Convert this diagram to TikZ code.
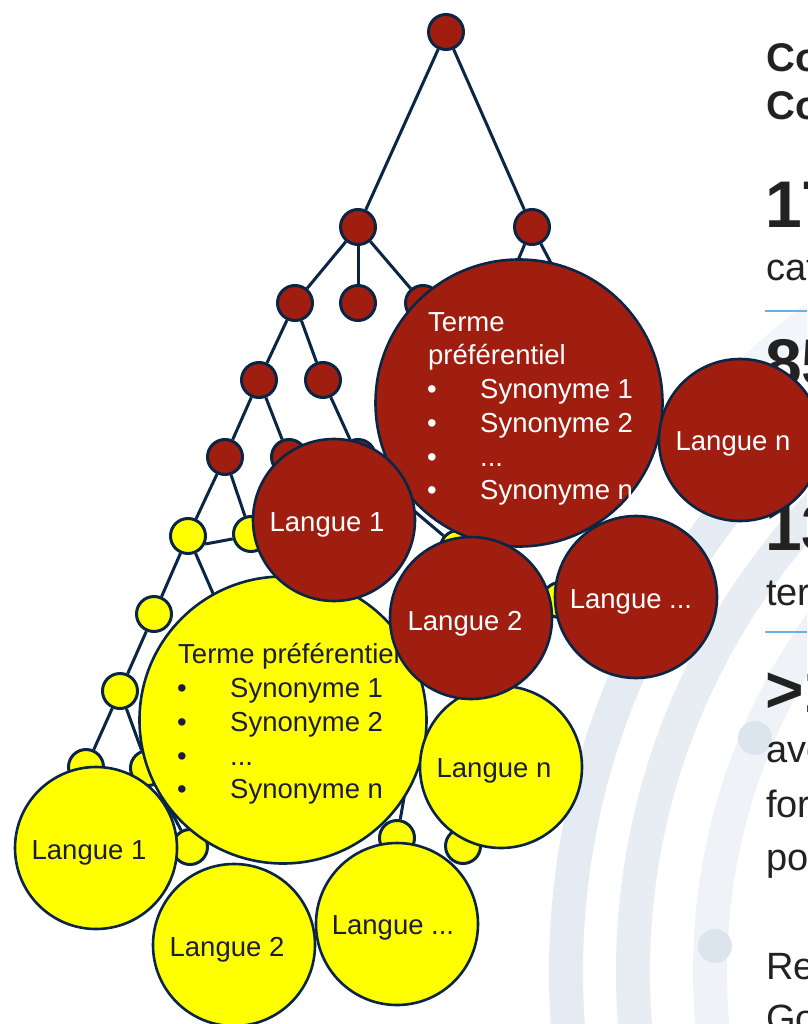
\documentclass[tikz,border=0pt]{standalone}
\usepackage{fontspec}
\setmainfont{Liberation Sans}
\definecolor{navy}{HTML}{0B2545}
\definecolor{tred}{HTML}{A01E10}
\definecolor{tyel}{HTML}{FFFF00}
\definecolor{ytext}{HTML}{1C1C3C}
\definecolor{bandA}{HTML}{E5EBF3}
\definecolor{bandB}{HTML}{E8EDF4}
\definecolor{bandC}{HTML}{EFF3F8}
\definecolor{bandE}{HTML}{F2F5F9}
\definecolor{dotc}{HTML}{DCE4ED}
\definecolor{rtxt}{HTML}{222222}
\definecolor{sepc}{HTML}{6AB0E4}
\begin{document}
\begin{tikzpicture}[x=1pt,y=-1pt,
  smallnode/.style={circle, draw=navy, line width=3pt, minimum size=35pt, inner sep=0pt},
  rsm/.style={smallnode, fill=tred},
  ysm/.style={smallnode, fill=tyel},
  bigcirc/.style={circle, draw=navy, line width=2.6pt, minimum size=287pt, inner sep=0pt},
  langcirc/.style={circle, draw=navy, line width=2.6pt, minimum size=162pt, inner sep=0pt},
  treeedge/.style={draw=navy, line width=3pt},
  wtxt/.style={text=white, font=\fontsize{27.5}{33}\selectfont, inner sep=0pt},
  ytxt/.style={text=ytext, font=\fontsize{27.5}{33}\selectfont, inner sep=0pt},
  rt/.style={anchor=base west, inner sep=0pt, text=rtxt, font=\fontsize{38}{44}\selectfont},
  rtb/.style={rt, font=\bfseries\fontsize{40}{48}\selectfont},
  rtbig/.style={rt, font=\bfseries\fontsize{66}{70}\selectfont},
  sepline/.style={draw=sepc, line width=2pt},
  bandline/.style={line width=34pt}
]
\useasboundingbox (0,0) rectangle (807,1024);
\fill[white] (0,0) rectangle (807,1024);
% background arcs
\begin{scope}
\clip (0,0) rectangle (807,1024);
\draw[bandline, bandA] (1313,972) circle[radius=747pt];
\draw[bandline, bandB] (1313,972) circle[radius=680pt];
\draw[bandline, bandC] (1313,972) circle[radius=603pt];
\fill[dotc] (755,738) circle[radius=17pt];
\fill[dotc] (715,946) circle[radius=17pt];
\end{scope}
\begin{scope}
\clip (700,0) rectangle (807,600);
\draw[bandline, bandE] (1313,972) circle[radius=822pt];
\end{scope}
% right-hand text
\node[rtb] (co1) at (766,72) {Co};
\node[rtb] (co2) at (766,120) {Co};
\node[rtbig] (n17) at (765,228) {17};
\node[rt] (cat) at (766,280) {cat};
\coordinate (s1a) at (765,311); \coordinate (s1b) at (807,311);
\draw[sepline] (s1a) -- (s1b);
\node[rtbig] (n85) at (765,385) {85};
\node[rtbig] (n13) at (765,550) {13};
\node[rt] (ter) at (766,605) {ter};
\coordinate (s2a) at (765,632); \coordinate (s2b) at (807,632);
\draw[sepline] (s2a) -- (s2b);
\node[rtbig] (ngt) at (765,712) {>1};
\node[rt] (ave) at (766,762) {ave};
\node[rt] (for) at (766,817) {for};
\node[rt] (po) at (766,870) {po};
\node[rt] (re) at (766,979) {Re};
\node[rt] (go) at (766,1031) {Go};
% small tree nodes
\node[rsm] (r) at (446,32) {};
\node[rsm] (a1) at (358,227) {};
\node[rsm] (a2) at (532,227) {};
\node[rsm] (b1) at (295,303) {};
\node[rsm] (b2) at (358,303) {};
\node[rsm] (b3) at (423,303) {};
\node[rsm] (b4) at (500,303) {};
\node[rsm] (b5) at (572,303) {};
\node[rsm] (c1) at (259,380) {};
\node[rsm] (c2) at (323,380) {};
\node[rsm] (d1) at (225,457) {};
\node[rsm] (d2) at (289,457) {};
\node[rsm] (d3) at (358,457) {};
\node[rsm] (hr1) at (380,482) {};
\node[ysm] (e1) at (188,536) {};
\node[ysm] (e2) at (251,534) {};
\node[ysm] (f1) at (154,614) {};
\node[ysm] (f2) at (222,614) {};
\node[ysm] (g1) at (120,691) {};
\node[ysm] (h1) at (86,767) {};
\node[ysm] (h2) at (148,768) {};
\node[ysm] (h3) at (190,847) {};
\node[ysm] (y8) at (397,838) {};
\node[ysm] (y9) at (463,846) {};
\node[ysm] (ys1) at (458,548) {};
\node[ysm] (ys2) at (560,600) {};
\coordinate (yh2) at (412,752);
% tree edges
\draw[treeedge] (r) -- (a1);
\draw[treeedge] (r) -- (a2);
\draw[treeedge] (a1) -- (b1);
\draw[treeedge] (a1) -- (b2);
\draw[treeedge] (a1) -- (b3);
\draw[treeedge] (a2) -- (b4);
\draw[treeedge] (a2) -- (b5);
\draw[treeedge] (b1) -- (c1);
\draw[treeedge] (b1) -- (c2);
\draw[treeedge] (c1) -- (d1);
\draw[treeedge] (c1) -- (d2);
\draw[treeedge] (c2) -- (d3);
\draw[treeedge] (d1) -- (e1);
\draw[treeedge] (d1) -- (e2);
\draw[treeedge] (e1.-25) -- (e2.195);
\draw[treeedge] (e1) -- (f1);
\draw[treeedge] (e1) -- (f2);
\draw[treeedge] (f1) -- (g1);
\draw[treeedge] (g1) -- (h1);
\draw[treeedge] (g1) -- (h2);
\draw[treeedge] (h2) -- (h3);
\draw[treeedge] (y8) -- (yh2);
\draw[treeedge] (hr1) -- (ys1);
% yellow cluster
\node[bigcirc, fill=tyel] (yT) at (283,720) {};
\node[ytxt, anchor=base west] (yT0) at (178,663) {Terme préférentiel};
\node[ytxt, anchor=base] (yB1) at (182,697) {•};
\node[ytxt, anchor=base west] (yS1) at (230,697) {Synonyme 1};
\node[ytxt, anchor=base] (yB2) at (182,731) {•};
\node[ytxt, anchor=base west] (yS2) at (230,731) {Synonyme 2};
\node[ytxt, anchor=base] (yB3) at (182,765) {•};
\node[ytxt, anchor=base west] (yS3) at (230,765) {...};
\node[ytxt, anchor=base] (yB4) at (182,798) {•};
\node[ytxt, anchor=base west] (yS4) at (230,798) {Synonyme n};
\node[langcirc, fill=tyel] (yL1) at (96,848) {};
\node[langcirc, fill=tyel] (yL2) at (234,945) {};
\node[langcirc, fill=tyel] (yL3) at (397,924) {};
\node[langcirc, fill=tyel] (yLn) at (501,767) {};
\node[ytxt, anchor=base] (yL1t) at (89,859) {Langue 1};
\node[ytxt, anchor=base] (yL2t) at (227,956) {Langue 2};
\node[ytxt, anchor=base] (yL3t) at (393,934) {Langue ...};
\node[ytxt, anchor=base] (yLnt) at (494,777) {Langue n};
% red cluster
\node[bigcirc, fill=tred] (rT) at (519,403) {};
\node[wtxt, anchor=base west] (rT0) at (428,331) {Terme};
\node[wtxt, anchor=base west] (rT1) at (428,364) {préférentiel};
\node[wtxt, anchor=base] (rB1) at (432,398) {•};
\node[wtxt, anchor=base west] (rS1) at (480,398) {Synonyme 1};
\node[wtxt, anchor=base] (rB2) at (432,432) {•};
\node[wtxt, anchor=base west] (rS2) at (480,432) {Synonyme 2};
\node[wtxt, anchor=base] (rB3) at (432,466) {•};
\node[wtxt, anchor=base west] (rS3) at (480,466) {...};
\node[wtxt, anchor=base] (rB4) at (432,499) {•};
\node[wtxt, anchor=base west] (rS4) at (480,499) {Synonyme n};
\node[langcirc, fill=tred] (rL1) at (334,520) {};
\node[langcirc, fill=tred] (rLn) at (740,440) {};
\node[langcirc, fill=tred] (rL3) at (636,597) {};
\node[langcirc, fill=tred] (rL2) at (471,618) {};
\node[wtxt, anchor=base] (rL1t) at (327,531) {Langue 1};
\node[wtxt, anchor=base] (rLnt) at (733,450) {Langue n};
\node[wtxt, anchor=base] (rL3t) at (631,608) {Langue ...};
\node[wtxt, anchor=base] (rL2t) at (465,630) {Langue 2};
\end{tikzpicture}
\end{document}
